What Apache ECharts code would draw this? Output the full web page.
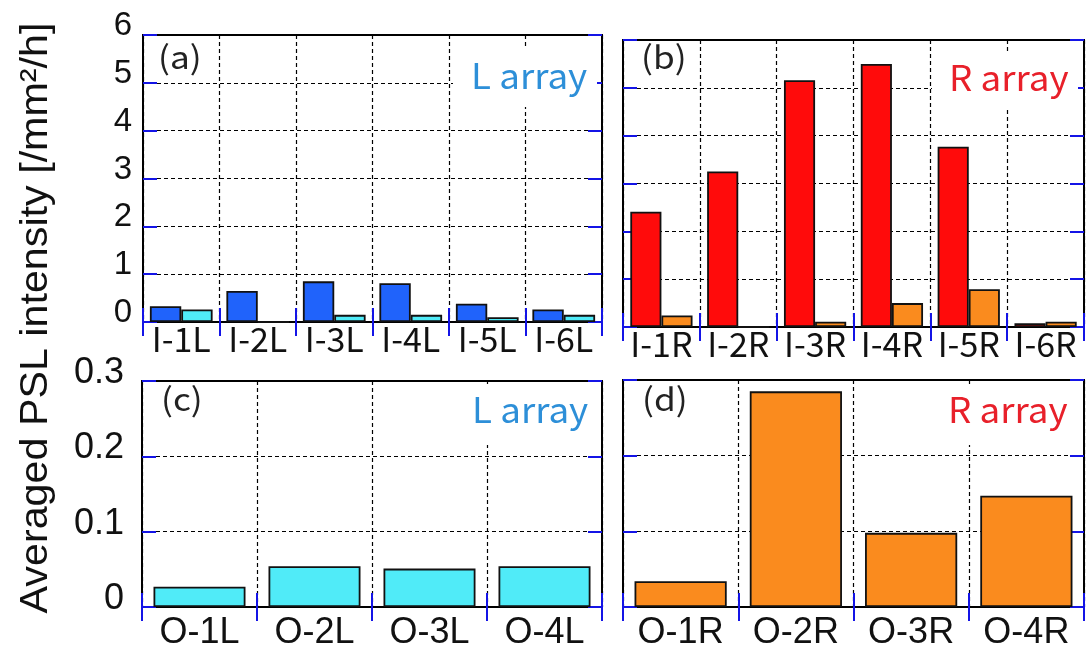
<!DOCTYPE html>
<html>
<head>
<meta charset="utf-8">
<script src="https://cdn.jsdelivr.net/npm/echarts@6/dist/echarts.min.js"></script>
<style>
html,body{margin:0;padding:0;background:#fff;}
#chart{width:1086px;height:656px;}
</style>
</head>
<body>
<div id="chart"></div>
<script>
// ---- data ----
var catsA = ['I-1L', 'I-2L', 'I-3L', 'I-4L', 'I-5L', 'I-6L'];
var aBlue = [0.33, 0.65, 0.85, 0.81, 0.38, 0.26];
var aCyan = [0.26, 0, 0.15, 0.15, 0.10, 0.15];

var catsB = ['I-1R', 'I-2R', 'I-3R', 'I-4R', 'I-5R', 'I-6R'];
var bRed = [2.41, 3.25, 5.16, 5.50, 3.77, 0.08];
var bOrange = [0.24, 0, 0.11, 0.50, 0.79, 0.11];

var catsC = ['O-1L', 'O-2L', 'O-3L', 'O-4L'];
var cCyan = [0.027, 0.054, 0.051, 0.054];

var catsD = ['O-1R', 'O-2R', 'O-3R', 'O-4R'];
var dOrange = [0.034, 0.285, 0.098, 0.147];

var yTicksTop = ['0', '1', '2', '3', '4', '5', '6'];
var yTicksBottom = ['0', '0.1', '0.2', '0.3'];

var yTitle = 'Averaged PSL intensity [/mm\u00B2/h]';
var panelLetters = ['(a)', '(b)', '(c)', '(d)'];
var arrayNames = ['L array', 'R array', 'L array', 'R array'];

// ---- styles ----
var COL_BLUE = '#2063fb', COL_CYAN = '#50ebf8', COL_RED = '#ff0b0b', COL_ORANGE = '#fa8b1e';
var TICK_BLUE = '#1414e6';
var gridsPos = [
  {left: 143, top: 35, width: 459, height: 287},
  {left: 623, top: 40, width: 461, height: 287},
  {left: 142, top: 381, width: 460, height: 226},
  {left: 623, top: 380, width: 461, height: 227}
];

var xAxes = [], yAxes = [], series = [];
function addPanel(gi, cats, ticks, interval, showYLabels, xFont, yFontSize, yMargin, xMargin, yLift) {
  var dashed = {color: '#000', width: 1.2, type: [4, 3]};
  var tickStyle = {show: true, inside: true, length: 14, lineStyle: {color: TICK_BLUE, width: 2}};
  var xi = xAxes.length;
  xAxes.push({
    gridIndex: gi, type: 'category', data: cats, position: 'bottom',
    axisLine: {show: true, lineStyle: {color: '#000', width: 2}},
    axisTick: tickStyle,
    axisLabel: {show: true, color: '#111', fontSize: xFont.size, fontFamily: xFont.family, margin: xMargin, interval: 0},
    splitLine: {show: true, lineStyle: dashed}
  });
  xAxes.push({
    gridIndex: gi, type: 'category', data: cats, position: 'top',
    axisLine: {show: false}, axisTick: tickStyle, axisLabel: {show: false}, splitLine: {show: false}
  });
  var yi = yAxes.length;
  var maxV = (ticks.length - 1) * interval;
  yAxes.push({
    gridIndex: gi, type: 'value', min: 0, max: maxV, interval: interval, position: 'left',
    axisLine: {show: false}, axisTick: tickStyle,
    axisLabel: {
      show: showYLabels, color: '#111', fontSize: yFontSize, fontFamily: 'Liberation Sans',
      margin: yMargin, verticalAlign: 'bottom', lineHeight: yLift,
      formatter: function (v) { return ticks[Math.round(v / interval)]; }
    },
    splitLine: {show: true, lineStyle: dashed}
  });
  yAxes.push({
    gridIndex: gi, type: 'value', min: 0, max: maxV, interval: interval, position: 'right',
    axisLine: {show: false}, axisTick: tickStyle, axisLabel: {show: false}, splitLine: {show: false}
  });
  return {xi: xi, yi: yi};
}

var cjk = {family: 'Noto Sans CJK JP', size: 34};
var lat = {family: 'Liberation Sans', size: 36};
var pA = addPanel(0, catsA, yTicksTop, 1, true, cjk, 33, 11, 0, 18);
var pB = addPanel(1, catsB, yTicksTop, 1, false, cjk, 33, 11, 0, 18);
var pC = addPanel(2, catsC, yTicksBottom, 0.1, true, lat, 36, 18, 8, 16);
var pD = addPanel(3, catsD, yTicksBottom, 0.1, false, lat, 36, 18, 8, 16);

function bar(p, data, color, gap) {
  return {
    type: 'bar', xAxisIndex: p.xi, yAxisIndex: p.yi, data: data,
    barGap: '0%', barCategoryGap: gap, z: 3,
    itemStyle: {color: color, borderColor: '#111', borderWidth: 1.8}
  };
}
series.push(bar(pA, aBlue, COL_BLUE, '18%'));
series.push(bar(pA, aCyan, COL_CYAN, '18%'));
series.push(bar(pB, bRed, COL_RED, '19%'));
series.push(bar(pB, bOrange, COL_ORANGE, '19%'));
series.push(bar(pC, cCyan, COL_CYAN, '20%'));
series.push(bar(pD, dOrange, COL_ORANGE, '20%'));

var grids = gridsPos.map(function (g) {
  return {left: g.left, top: g.top, width: g.width, height: g.height, show: true,
    borderColor: '#000', borderWidth: 2, backgroundColor: 'transparent', containLabel: false};
});

// annotation boxes / texts
var boxes = [
  {x: 453, y: 49, w: 144, h: 58},
  {x: 932, y: 52, w: 146, h: 55},
  {x: 455, y: 384, w: 142, h: 61},
  {x: 935, y: 384, w: 143, h: 61}
];
var arrTextPos = [
  {x: 471, y: 76, c: '#2d8fd8'},
  {x: 949, y: 78, c: '#e8202a'},
  {x: 472, y: 410, c: '#2d8fd8'},
  {x: 948, y: 410, c: '#e8202a'}
];
var letterPos = [
  {x: 158, y: 57}, {x: 641, y: 57}, {x: 161, y: 399}, {x: 642, y: 399}
];
var graphics = [];
boxes.forEach(function (b, i) {
  graphics.push({type: 'rect', z: 10, shape: {x: b.x, y: b.y, width: b.w, height: b.h}, style: {fill: '#fff'}});
  graphics.push({type: 'text', z: 11, x: arrTextPos[i].x, y: arrTextPos[i].y, scaleX: 1.05,
    style: {text: arrayNames[i], font: '35px "Noto Sans CJK JP"', fill: arrTextPos[i].c,
      textAlign: 'left', textVerticalAlign: 'middle', align: 'left', verticalAlign: 'middle'}});
  graphics.push({type: 'text', z: 11, x: letterPos[i].x, y: letterPos[i].y, scaleX: 1.1,
    style: {text: panelLetters[i], font: '32px "Noto Sans CJK JP"', fill: '#222',
      textAlign: 'left', textVerticalAlign: 'middle', align: 'left', verticalAlign: 'middle'}});
});
graphics.push({type: 'text', z: 11, x: 36, y: 318, rotation: Math.PI / 2, scaleX: 1.058,
  style: {text: yTitle, font: '39px "Liberation Sans"', fill: '#111',
    textAlign: 'center', textVerticalAlign: 'middle', align: 'center', verticalAlign: 'middle'}});

var chart = echarts.init(document.getElementById('chart'), null, {renderer: 'canvas'});
chart.setOption({
  animation: false,
  backgroundColor: '#fff',
  grid: grids,
  xAxis: xAxes,
  yAxis: yAxes,
  series: series,
  graphic: graphics
});
</script>
</body>
</html>
